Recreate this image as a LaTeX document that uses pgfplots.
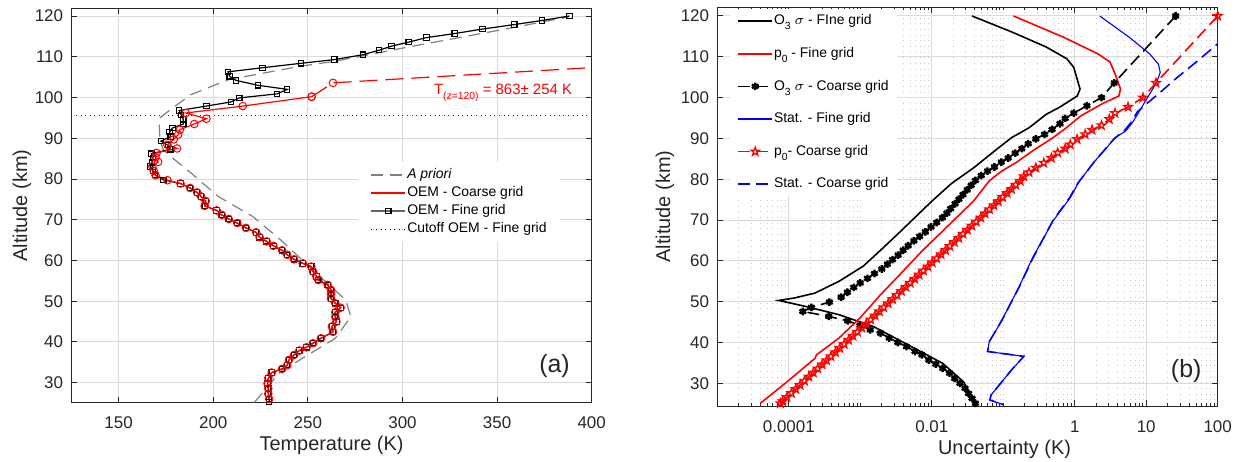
\documentclass[border=0pt]{standalone}
\usepackage{fontspec}
\setmainfont{Liberation Sans}
\usepackage{pgfplots}
\pgfplotsset{compat=1.18}
\usetikzlibrary{plotmarks}

\pgfdeclareplotmark{pentagram}{%
  \pgfpathmoveto{\pgfpointpolar{90}{\pgfplotmarksize}}%
  \pgfpathlineto{\pgfpointpolar{126}{0.4\pgfplotmarksize}}%
  \pgfpathlineto{\pgfpointpolar{162}{\pgfplotmarksize}}%
  \pgfpathlineto{\pgfpointpolar{198}{0.4\pgfplotmarksize}}%
  \pgfpathlineto{\pgfpointpolar{234}{\pgfplotmarksize}}%
  \pgfpathlineto{\pgfpointpolar{270}{0.4\pgfplotmarksize}}%
  \pgfpathlineto{\pgfpointpolar{306}{\pgfplotmarksize}}%
  \pgfpathlineto{\pgfpointpolar{342}{0.4\pgfplotmarksize}}%
  \pgfpathlineto{\pgfpointpolar{18}{\pgfplotmarksize}}%
  \pgfpathlineto{\pgfpointpolar{54}{0.4\pgfplotmarksize}}%
  \pgfpathclose
  \pgfusepathqstroke
}

\pgfplotsset{
  myaxis/.style={
    scale only axis, anchor=south west,
    axis line style={black!85, line width=0.5bp},
    every tick/.style={black!85, line width=0.5bp},
    tick align=inside,
    major tick length=2.8bp, minor tick length=1.6bp,
    major grid style={black!14, line width=0.5bp},
    tick label style={font=\fontsize{8.5}{10}\selectfont, text=black!85},
    xticklabel style={yshift=-3.7bp},
    yticklabel style={xshift=-0.6bp},
    label style={font=\fontsize{10}{12}\selectfont, text=black!85},
    /pgf/number format/assume math mode=true,
    legend cell align=left,
    legend style={font=\fontsize{7}{8}\selectfont, draw=none, fill=white,
      nodes={inner sep=0.5bp, text height=5.2bp, text depth=1.6bp}},
  }
}

\newcommand{\sub}[1]{\raisebox{-0.7ex}{\fontsize{5.2}{6}\selectfont #1}}

\begin{document}
\begin{tikzpicture}
\path[use as bounding box] (0bp,0bp) rectangle (620.5bp,231bp);

% ---------------- left panel ----------------
\begin{axis}[myaxis, at={(35.65bp,29.85bp)}, width=260.2bp, height=196.8bp,
  xmin=125, xmax=400, ymin=25.2, ymax=121.8,
  xtick={150,200,250,300,350,400}, ytick={30,40,50,60,70,80,90,100,110,120},
  grid=major,
  xlabel={Temperature (K)}, ylabel={Altitude (km)},
  xlabel style={at={(axis description cs:0.5,-0.1085)}, anchor=center},
  ylabel style={at={(axis description cs:-0.0947,0.5)}, anchor=center},
  legend style={at={(axis description cs:0.551,0.6105)}, anchor=north west,
    inner xsep=6bp, inner ysep=2.5bp, row sep=1.2bp},
]
\addlegendimage{color=black!50, line width=0.7bp, dash pattern=on 6bp off 3.5bp}
\addlegendentry{\textit{A priori}}
\addlegendimage{color=red, line width=0.8bp}
\addlegendentry{OEM - Coarse grid}
\addlegendimage{color=black!60, line width=0.9bp, mark=square, mark size=1.3bp, mark options={solid, line width=0.6bp, draw=black}}
\addlegendentry{OEM - Fine grid}
\addlegendimage{color=black, line width=0.5bp, dash pattern=on 0.5bp off 1.8bp}
\addlegendentry{Cutoff OEM - Fine grid}

% cutoff
\addplot[forget plot, black!85, line width=0.5bp, dash pattern=on 0.5bp off 1.8bp] coordinates {(125,95.7) (400,95.7)};

% a priori
\addplot[forget plot, black!50, line width=0.6bp, dash pattern=on 6bp off 3.5bp] table {
221.8 25.2
235.5 32.7
264.5 40.9
272.7 46.2
270.0 50.3
257.3 55.7
235.5 65.1
220.9 70.8
202.7 75.7
188.2 81.5
177.3 85.6
173.6 87.2
171.8 89.7
171.5 93.4
171.8 95.0
177.3 97.0
188.2 100.7
208.2 104.4
246.4 107.7
264.5 108.9
300.9 112.2
355.5 116.9
388.0 119.8
};

% OEM fine
\addplot[forget plot, black, line width=0.6bp, mark=square, mark size=1.35bp, mark options={line width=0.55bp}] table {
388.2 120.0
373.6 118.9
359.1 117.9
342.3 116.8
327.6 115.7
312.7 114.7
303.3 113.6
294.2 112.6
287.6 111.6
279.1 110.5
264.0 109.3
246.4 108.4
226.0 107.3
207.8 106.3
208.7 105.2
212.0 104.2
223.6 103.0
239.1 102.0
233.8 100.9
213.8 99.9
209.3 98.9
196.4 97.9
182.0 96.8
183.1 95.7
184.2 94.6
184.2 93.5
178.4 92.5
176.9 91.5
177.5 90.4
172.4 89.3
176.0 88.3
177.3 87.3
167.3 86.2
168.2 85.2
167.6 84.1
166.7 83.1
168.2 82.1
169.1 81.1
173.6 79.8
182.7 78.9
187.8 77.8
191.5 76.7
193.6 75.7
196.0 74.6
195.5 73.4
201.8 72.3
204.5 71.2
208.2 70.2
212.7 69.2
217.3 68.0
222.7 66.9
224.5 65.7
228.2 64.7
231.8 63.6
236.4 62.5
239.1 61.4
242.7 60.3
247.3 59.3
251.8 58.5
252.7 57.3
254.5 56.1
255.5 55.2
260.5 54.0
262.2 52.8
262.2 51.8
262.2 50.7
264.5 49.5
267.3 48.4
264.5 47.3
264.5 46.2
265.1 45.0
262.7 43.8
263.3 42.5
256.9 40.9
252.7 39.7
249.3 38.7
245.5 37.9
242.7 36.8
240.0 35.6
239.1 34.3
236.4 33.4
230.9 32.5
229.1 31.1
228.7 29.8
229.1 28.6
229.1 27.3
229.6 26.0
229.6 25.3
};

% OEM coarse (solid part)
\addplot[forget plot, red, line width=0.6bp, mark=o, mark size=1.9bp, mark options={line width=0.5bp}] table {
252.0 100.2
215.6 97.9
185.5 96.2
196.4 94.8
190.0 93.5
182.4 92.1
181.5 90.9
179.1 89.7
175.8 88.4
180.9 87.5
170.0 86.4
169.5 85.3
170.9 84.2
167.8 83.1
168.5 82.0
169.5 80.9
175.8 79.7
182.7 78.9
187.8 77.8
191.5 76.7
193.6 75.7
196.0 74.6
195.5 73.4
201.8 72.3
204.5 71.2
208.2 70.2
212.7 69.2
217.3 68.0
222.7 66.9
224.5 65.7
228.2 64.7
231.8 63.6
236.4 62.5
239.1 61.4
242.7 60.3
247.3 59.3
251.8 58.5
252.7 57.3
254.5 56.1
255.5 55.2
260.5 54.0
262.2 52.8
262.2 51.8
262.2 50.7
264.5 49.5
267.3 48.4
264.5 47.3
264.5 46.2
265.1 45.0
262.7 43.8
263.3 42.5
256.9 40.9
252.7 39.7
249.3 38.7
245.5 37.9
242.7 36.8
240.0 35.6
239.1 34.3
236.4 33.4
230.9 32.5
229.1 31.1
228.7 29.8
229.1 28.6
229.1 27.3
229.6 26.0
};
% OEM coarse (dashed extrapolation)
\addplot[forget plot, red, line width=0.6bp, dash pattern=on 9bp off 4bp, mark=o, mark size=1.9bp, mark options={solid, line width=0.5bp}] table {
252.0 100.2
263.3 103.6
863.0 120.0
};

\node[anchor=west, inner sep=0pt, text=red, font=\fontsize{7.5}{9}\selectfont] at (axis cs:316.5,101.1) {T\sub{(z=120)} = 863± 254 K};
\node[font=\fontsize{12.5}{14}\selectfont, text=black!85] at (rel axis cs:0.9285,0.092) {(a)};
\end{axis}

% ---------------- right panel ----------------
\begin{axis}[myaxis, at={(358.65bp,28bp)}, width=250.2bp, height=199.35bp,
  xmode=log, xmin=1e-5, xmax=100, ymin=24.44, ymax=122.13,
  xtick={1e-4,1e-2,1,10,100}, xticklabels={0.0001,0.01,1,10,100},
  minor xtick={2e-5,3e-5,4e-5,5e-5,6e-5,7e-5,8e-5,9e-5,
    2e-4,3e-4,4e-4,5e-4,6e-4,7e-4,8e-4,9e-4,1e-3,
    2e-3,3e-3,4e-3,5e-3,6e-3,7e-3,8e-3,9e-3,
    2e-2,3e-2,4e-2,5e-2,6e-2,7e-2,8e-2,9e-2,0.1,
    0.2,0.3,0.4,0.5,0.6,0.7,0.8,0.9,
    2,3,4,5,6,7,8,9,20,30,40,50,60,70,80,90},
  ytick={30,40,50,60,70,80,90,100,110,120},
  xmajorgrids, ymajorgrids, xminorgrids,
  minor grid style={black!22, line width=0.45bp, dash pattern=on 0.45bp off 2.4bp},
  xlabel={Uncertainty (K)}, ylabel={Altitude (km)},
  xlabel style={at={(axis description cs:0.574,-0.108)}, anchor=center},
  ylabel style={at={(axis description cs:-0.1045,0.5)}, anchor=center},
  legend style={at={(axis description cs:0.0254,0.9957)}, anchor=north west,
    inner xsep=3.5bp, inner ysep=2bp, row sep=8.5bp},
]
% O3 sigma fine
\addplot[black, line width=0.8bp] table {
0.0366 120
0.131 116.1
0.399 112.4
0.778 109.5
0.97 107.4
1.186 102.1
1.084 100.4
0.622 97.7
0.399 95.9
0.229 92.6
0.131 90.2
0.0753 86.9
0.0386 82.8
0.019 79.0
0.01 74.6
0.00646 71.4
0.00355 67.0
0.00209 63.2
0.0011 58.7
5.05e-4 55.0
2.32e-4 52.1
1.19e-4 50.9
7.23e-5 50.3
1.66e-4 48.9
5.05e-4 46.8
1.53e-3 43.9
4.67e-3 39.4
0.0142 34.9
0.0277 30.4
0.0408 25.1
};
\addlegendentry{O\sub{3} $\sigma$ - FIne grid}

% p0 fine
\addplot[red, line width=0.8bp] table {
0.139 120
0.697 114.8
2.12 110.7
3.12 108.7
3.67 105.8
4.37 102.1
4.14 100.4
2.37 98.4
1.21 95.5
0.75 92.5
0.48 90.0
0.27 87.2
0.155 84.2
0.095 82.0
0.0638 79.6
0.0386 74.7
0.0142 67.3
0.0073 62.4
0.00374 57.0
0.00192 51.7
9.9e-4 46.0
5.05e-4 41.1
2.45e-4 37.0
2.32e-4 36.1
9.5e-5 30.4
4.0e-5 25.1
};
\addlegendentry{p\sub{0} - Fine grid}

% O3 sigma coarse
\addplot[black, line width=0.8bp, dash pattern=on 6bp off 3bp, mark=asterisk, mark size=1.9bp, mark options={solid, line width=1.2bp}] table {
25.8 120
3.57 103.6
2.37 100.0
1.48 98.0
0.97 96.2
0.736 94.9
0.622 93.6
0.482 92.2
0.378 91.0
0.286 89.9
0.224 88.7
0.182 87.5
0.147 86.4
0.117 85.2
0.094 84.2
0.0753 83.0
0.0603 82.0
0.0493 80.9
0.0408 79.7
0.0356 78.5
0.0313 77.4
0.0273 76.2
0.0240 75.1
0.0212 74.0
0.0184 72.8
0.0163 71.7
0.0141 70.6
0.0117 69.4
0.00977 68.3
0.00813 67.1
0.00676 66.0
0.00562 64.9
0.00468 63.7
0.00398 62.6
0.00339 61.4
0.00282 60.3
0.0024 59.2
0.0020 58.0
0.00158 56.9
0.00126 55.7
0.0010 54.6
8.1e-4 53.5
6.6e-4 52.3
5.4e-4 51.1
3.7e-4 49.9
2.07e-4 48.6
1.57e-4 47.6
3.62e-4 46.4
6.68e-4 45.3
9.89e-4 44.2
1.38e-3 43.1
1.92e-3 42.3
2.54e-3 41.1
3.35e-3 40.0
4.43e-3 39.0
5.83e-3 37.8
7.29e-3 37.0
9.10e-3 35.7
0.0114 34.7
0.0142 33.7
0.0177 32.5
0.0209 31.2
0.0248 30.0
0.0292 28.8
0.0327 27.5
0.0366 26.3
0.0408 25.1
};
\addlegendentry{O\sub{3} $\sigma$ - Coarse grid}

% Stat fine
\addplot[blue, line width=0.55bp] table {
2.24 120
5.77 114.8
11.2 110.7
14.8 108.2
15.7 106.2
14.0 103.7
11.2 100.9
8.04 96.7
6.43 93.9
5.14 91.8
3.67 90.2
2.80 87.7
1.90 84.4
1.36 81.1
1.15 79.4
0.867 75.5
0.498 69.8
0.256 60.7
0.164 53.4
0.094 45.2
0.0637 40.2
0.0603 37.8
0.194 36.6
0.131 33.3
0.0673 27.1
0.0652 25.9
0.0993 24.8
};
\addlegendentry{Stat. - Fine grid}

% p0 coarse
\addplot[red, line width=0.8bp, dash pattern=on 6bp off 3bp, mark=pentagram, mark size=2.2bp, mark options={solid, line width=0.65bp}] table {
100 120
13.7 103.6
9.0 100.0
5.57 97.7
3.67 96.2
3.05 94.7
2.37 93.2
1.75 92.1
1.40 91.0
1.08 89.8
0.867 88.5
0.736 87.5
0.577 86.5
0.472 85.2
0.369 84.0
0.286 82.8
0.229 81.7
0.194 80.7
0.173 79.6
0.150 78.6
0.1305 77.6
0.1133 76.6
0.0984 75.6
0.0853 74.6
0.0740 73.6
0.0643 72.6
0.0557 71.6
0.0484 70.6
0.0420 69.6
0.0364 68.6
0.0316 67.6
0.0274 66.6
0.0238 65.6
0.0207 64.6
0.0179 63.6
0.0156 62.6
0.0135 61.6
0.01172 60.6
0.01016 59.6
0.00881 58.6
0.00766 57.6
0.00664 56.6
0.00577 55.6
0.00500 54.6
0.00434 53.6
0.00377 52.6
0.00327 51.6
0.00284 50.6
0.00246 49.6
0.00213 48.6
0.00185 47.6
0.00161 46.6
0.00140 45.6
0.00121 44.6
0.00105 43.6
9.12e-4 42.6
7.91e-4 41.6
6.87e-4 40.6
5.96e-4 39.6
5.16e-4 38.6
4.49e-4 37.6
3.89e-4 36.6
3.38e-4 35.6
2.93e-4 34.6
2.54e-4 33.6
2.21e-4 32.6
1.91e-4 31.6
1.66e-4 30.6
1.44e-4 29.6
1.25e-4 28.6
1.09e-4 27.6
9.42e-5 26.6
8.18e-5 25.6
7.62e-5 25.1
};
\addlegendentry{p\sub{0}- Coarse grid}

% Stat coarse
\addplot[blue, line width=0.8bp, dash pattern=on 6bp off 3bp] table {
316 120
100 113.2
53.3 109.1
27.4 105.0
15.7 101.3
10.0 98.4
7.5 96.5
6.2 94.0
5.0 92.0
3.6 90.0
2.7 87.5
1.9 84.4
1.35 81.0
1.1 79.0
0.85 75.5
0.5 70.0
0.26 60.7
0.165 53.4
0.094 45.2
0.0637 40.2
0.0603 37.8
0.194 36.6
0.131 33.3
0.0673 27.1
0.0652 25.9
0.0993 24.8
};
\addlegendentry{Stat. - Coarse grid}

\node[font=\fontsize{12.5}{14}\selectfont, text=black!85] at (rel axis cs:0.937,0.088) {(b)};
\end{axis}
\end{tikzpicture}
\end{document}
